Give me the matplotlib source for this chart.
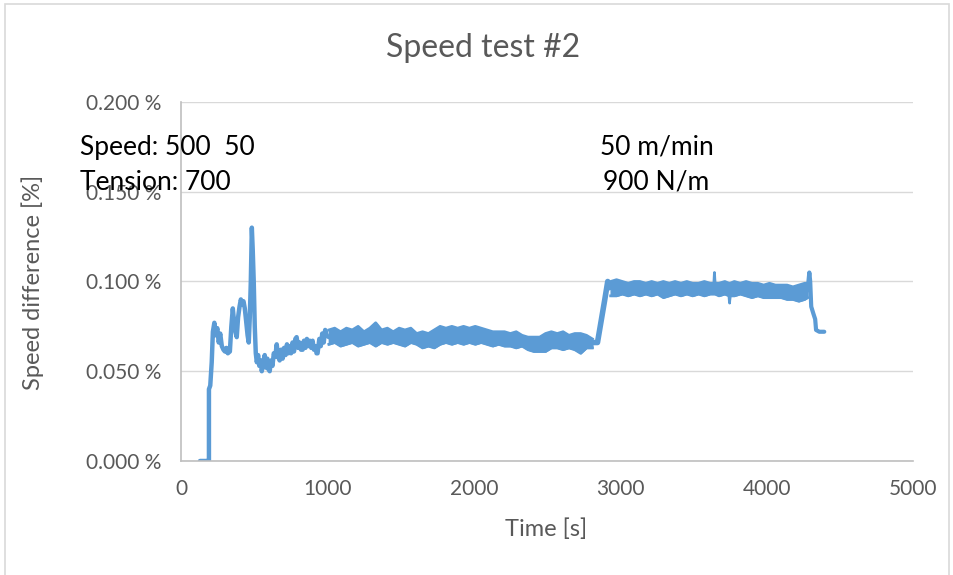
import matplotlib
matplotlib.use('Agg')
import matplotlib.pyplot as plt
from matplotlib.patches import Rectangle
from matplotlib.ticker import FuncFormatter

# values (time in s, speed difference in %)
# start-up part, drawn as a plain line
time_start = [130, 150, 175, 191, 191, 200, 210, 218, 228, 238, 248, 258, 268, 279, 290, 300,
              310, 320, 334, 344, 354, 362, 372, 381, 390, 400, 409, 418, 427, 436, 445, 455,
              463, 470, 477, 484, 490, 497, 504, 511, 518, 527, 535, 545, 552, 562, 572, 580,
              590, 598, 606, 615, 625, 634, 644, 654, 664, 674, 684, 694, 704, 714, 724, 734,
              742, 752, 762, 772, 781, 790, 800, 810, 820, 831, 840, 850, 860, 870, 880, 890,
              899, 908, 918, 926, 933, 945, 955, 965, 975, 985, 995, 1010]
diff_start = [0.0, 0.0, 0.0, 0.0, 0.040, 0.042, 0.055, 0.072, 0.077, 0.070, 0.074, 0.066, 0.071,
              0.064, 0.062, 0.061, 0.063, 0.060, 0.061, 0.075, 0.085, 0.078, 0.072, 0.069, 0.080,
              0.086, 0.090, 0.087, 0.089, 0.085, 0.078, 0.070, 0.066, 0.080, 0.100, 0.130, 0.118,
              0.100, 0.075, 0.060, 0.055, 0.059, 0.053, 0.056, 0.050, 0.055, 0.059, 0.052, 0.057,
              0.051, 0.050, 0.056, 0.053, 0.060, 0.058, 0.065, 0.058, 0.056, 0.062, 0.057, 0.063,
              0.059, 0.065, 0.060, 0.064, 0.060, 0.066, 0.061, 0.068, 0.069, 0.063, 0.066, 0.062,
              0.062, 0.067, 0.063, 0.068, 0.064, 0.067, 0.063, 0.067, 0.062, 0.064, 0.060, 0.060,
              0.068, 0.064, 0.071, 0.066, 0.073, 0.070, 0.069]

# first plateau (50 m/min, 700 N/m): noise band, upper and lower edge
band1_time = [1010, 1050, 1090, 1130, 1170, 1210, 1250, 1290, 1330, 1370, 1410, 1450, 1490,
              1530, 1570, 1610, 1650, 1690, 1730, 1770, 1810, 1850, 1890, 1930, 1970, 2010,
              2050, 2090, 2130, 2170, 2210, 2250, 2290, 2330, 2370, 2410, 2450, 2490, 2530,
              2570, 2610, 2650, 2690, 2730, 2770, 2810]
band1_low = [0.065, 0.066, 0.064, 0.065, 0.066, 0.064, 0.065, 0.066, 0.064, 0.066, 0.065, 0.066,
             0.065, 0.064, 0.066, 0.065, 0.063, 0.064, 0.063, 0.065, 0.066, 0.065, 0.066, 0.065,
             0.066, 0.065, 0.066, 0.065, 0.064, 0.065, 0.064, 0.064, 0.063, 0.064, 0.062, 0.061,
             0.061, 0.061, 0.063, 0.063, 0.062, 0.063, 0.062, 0.060, 0.063, 0.063]
band1_high = [0.073, 0.074, 0.072, 0.074, 0.073, 0.075, 0.072, 0.074, 0.077, 0.073, 0.074, 0.072,
              0.074, 0.073, 0.074, 0.071, 0.072, 0.071, 0.073, 0.075, 0.074, 0.075, 0.074, 0.075,
              0.074, 0.075, 0.074, 0.073, 0.072, 0.072, 0.072, 0.071, 0.072, 0.070, 0.069, 0.069,
              0.069, 0.071, 0.072, 0.071, 0.072, 0.070, 0.071, 0.071, 0.070, 0.068]

# ramp to the second plateau
time_ramp = [2810, 2845, 2870, 2895, 2915, 2935]
diff_ramp = [0.066, 0.066, 0.078, 0.090, 0.100, 0.097]

# second plateau (50 m/min, 900 N/m)
band2_time = [2935, 2975, 3015, 3055, 3095, 3135, 3175, 3215, 3255, 3295, 3335, 3375, 3415,
              3455, 3495, 3535, 3575, 3615, 3640, 3644, 3648, 3675, 3715, 3743, 3747, 3751,
              3780, 3820, 3860, 3900, 3940, 3980, 4020, 4060, 4100, 4140, 4180, 4220, 4260,
              4280]
band2_low = [0.092, 0.092, 0.093, 0.092, 0.093, 0.092, 0.093, 0.092, 0.093, 0.091, 0.092, 0.093,
             0.092, 0.093, 0.092, 0.093, 0.092, 0.093, 0.093, 0.093, 0.093, 0.092, 0.093, 0.092,
             0.088, 0.092, 0.092, 0.093, 0.092, 0.091, 0.092, 0.091, 0.091, 0.091, 0.091, 0.090,
             0.090, 0.089, 0.090, 0.091]
band2_high = [0.100, 0.101, 0.100, 0.099, 0.100, 0.100, 0.099, 0.100, 0.099, 0.100, 0.099, 0.100,
              0.099, 0.100, 0.099, 0.099, 0.100, 0.099, 0.099, 0.105, 0.099, 0.099, 0.100, 0.099,
              0.099, 0.099, 0.100, 0.099, 0.100, 0.099, 0.099, 0.098, 0.099, 0.098, 0.098, 0.098,
              0.097, 0.098, 0.099, 0.099]

# end of the run
time_tail = [4280, 4292, 4298, 4305, 4320, 4332, 4338, 4360, 4394]
diff_tail = [0.095, 0.105, 0.100, 0.086, 0.082, 0.079, 0.073, 0.072, 0.072]

x_ticks = [0, 1000, 2000, 3000, 4000, 5000]
y_ticks = [0.0, 0.05, 0.10, 0.15, 0.20]

blue = '#5b9bd5'
grey_txt = '#595959'

plt.rcParams['font.family'] = ['Lato', 'DejaVu Sans']

fig = plt.figure(figsize=(9.54, 5.75), dpi=100)
ax = fig.add_axes([0.1897, 0.1983, 0.7673, 0.6243])

ax.plot(time_start, diff_start, color=blue, lw=3.2, solid_joinstyle='round', solid_capstyle='round')
for t, lo, hi in [(band1_time, band1_low, band1_high), (band2_time, band2_low, band2_high)]:
    ax.fill_between(t, lo, hi, facecolor=blue, edgecolor=blue, lw=1.0)
    ax.plot(t, lo, color=blue, lw=2.0, solid_joinstyle='round')
    ax.plot(t, hi, color=blue, lw=2.0, solid_joinstyle='round')
ax.plot(time_ramp, diff_ramp, color=blue, lw=4.0, solid_joinstyle='round')
ax.plot(time_tail, diff_tail, color=blue, lw=3.0, solid_joinstyle='round', solid_capstyle='round')

ax.set_xlim(0, 5000)
ax.set_ylim(0, 0.2)
ax.set_xticks(x_ticks)
ax.set_yticks(y_ticks)
ax.yaxis.set_major_formatter(FuncFormatter(lambda v, p: f'{v:.3f} %'))
ax.tick_params(axis='y', length=0, labelsize=15, colors=grey_txt, pad=14)
ax.tick_params(axis='x', length=0, labelsize=15, colors=grey_txt, pad=13)
ax.grid(axis='y', color='#d9d9d9', lw=1)
ax.set_axisbelow(True)
for s in ['top', 'right']:
    ax.spines[s].set_visible(False)
for s in ['left', 'bottom']:
    ax.spines[s].set_color('#bfbfbf')
    ax.spines[s].set_linewidth(1.2)

fig.text(483 / 954, 1 - 48 / 575, 'Speed test #2', ha='center', va='center', fontsize=23, color=grey_txt)
fig.text(33 / 954, 1 - 282 / 575, 'Speed difference [%]', ha='center', va='center',
         rotation=90, fontsize=17, color=grey_txt)
fig.text(546 / 954, 1 - 529 / 575, 'Time [s]', ha='center', va='center', fontsize=17, color=grey_txt)

fig.text(80 / 954, 1 - 147 / 575, 'Speed: 500  50', ha='left', va='center', fontsize=19, color='black')
fig.text(80 / 954, 1 - 182 / 575, 'Tension: 700', ha='left', va='center', fontsize=19, color='black')
fig.text(600 / 954, 1 - 147 / 575, '50 m/min', ha='left', va='center', fontsize=19, color='black')
fig.text(603 / 954, 1 - 182 / 575, '900 N/m', ha='left', va='center', fontsize=19, color='black')

fig.patches.append(Rectangle((5 / 954, -0.01), 944 / 954, 1 - 4 / 575 + 0.01, transform=fig.transFigure,
                             fill=False, edgecolor='#d9d9d9', lw=1.2))

fig.savefig('out.png', dpi=100)
